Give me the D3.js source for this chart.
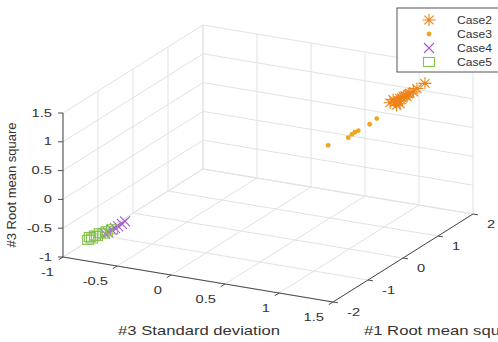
<!DOCTYPE html>
<html>
<head>
<meta charset="utf-8">
<script src="https://cdn.jsdelivr.net/npm/d3@7"></script>
<style>
  html, body { margin: 0; padding: 0; background: #fff; }
  svg { display: block; }
  text { font-family: "Liberation Sans", Arial, Helvetica, sans-serif; fill: #333; }
</style>
</head>
<body>
<svg id="chart" width="498" height="342"></svg>
<script>
// Axis limits and ticks
const xDomain = [-1, 1.5];   // #3 Standard deviation
const yDomain = [-2, 2];     // #1 Root mean square
const zDomain = [-1, 1.5];   // #3 Root mean square
const xTicks = [-1, -0.5, 0, 0.5, 1, 1.5];
const xTickLabels = ["-1", "-0.5", "0", "0.5", "1", "1.5"];
const yTicks = [-2, -1, 0, 1, 2];
const yTickLabels = ["-2", "-1", "0", "1", "2"];
const zTicks = [-1, -0.5, 0, 0.5, 1, 1.5];
const zTickLabels = ["-1", "-0.5", "0", "0.5", "1", "1.5"];

// Series: [#3 Standard deviation, #1 Root mean square, #3 Root mean square]
const case2 = [
  [1.034, 1.07, 1.14], [1.062, 1.12, 1.14], [1.080, 1.16, 1.16], [1.090, 1.18, 1.19],
  [1.099, 1.20, 1.20], [1.108, 1.22, 1.22], [1.118, 1.24, 1.23], [1.128, 1.26, 1.20],
  [1.137, 1.27, 1.25], [1.165, 1.33, 1.27], [1.230, 1.46, 1.39], [1.071, 1.14, 1.08],
  [1.052, 1.10, 1.19], [1.090, 1.18, 1.10], [1.146, 1.29, 1.26], [1.185, 1.37, 1.32]
];
const case3 = [
  [0.687, 0.37, 0.56], [0.799, 0.60, 0.64], [0.819, 0.64, 0.69], [0.837, 0.67, 0.72],
  [0.856, 0.71, 0.74], [0.919, 0.84, 0.82], [0.959, 0.92, 0.90]
];
const case4 = [
  [-0.731, -1.63, -0.65], [-0.708, -1.61, -0.63], [-0.684, -1.58, -0.59], [-0.661, -1.56, -0.56],
  [-0.638, -1.54, -0.53], [-0.614, -1.51, -0.49], [-0.591, -1.49, -0.45]
];
const case5 = [
  [-0.848, -1.75, -0.75], [-0.836, -1.74, -0.70], [-0.822, -1.72, -0.73], [-0.801, -1.70, -0.68],
  [-0.787, -1.69, -0.69], [-0.766, -1.67, -0.64], [-0.743, -1.64, -0.65], [-0.719, -1.62, -0.61],
  [-0.682, -1.58, -0.58]
];
const seriesNames = ["Case2", "Case3", "Case4", "Case5"];
const seriesColors = ["#ee8316", "#f2a51c", "#a35ac8", "#84c24c"];

// Oblique view of the box: origin corner and screen vectors for each axis
const origin = [63, 257];
const xVec = [270, 45];
const yVec = [140, -88];
const zVec = [0, -144];

const fx = d3.scaleLinear().domain(xDomain).range([0, 1]);
const fy = d3.scaleLinear().domain(yDomain).range([0, 1]);
const fz = d3.scaleLinear().domain(zDomain).range([0, 1]);

function project(x, y, z) {
  const a = fx(x), b = fy(y), c = fz(z);
  return [
    origin[0] + a * xVec[0] + b * yVec[0] + c * zVec[0],
    origin[1] + a * xVec[1] + b * yVec[1] + c * zVec[1]
  ];
}

const svg = d3.select("#chart");
const line = d3.line();

// Grid on the floor, left wall and back wall
const grid = svg.append("g").attr("stroke", "#e2e2e2").attr("stroke-width", 1).attr("fill", "none");
const [x0, x1] = xDomain, [y0, y1] = yDomain, [z0, z1] = zDomain;
const gridSegs = [];
xTicks.forEach(x => {
  gridSegs.push([project(x, y0, z0), project(x, y1, z0)]);   // floor
  gridSegs.push([project(x, y1, z0), project(x, y1, z1)]);   // back wall
});
yTicks.forEach(y => {
  gridSegs.push([project(x0, y, z0), project(x1, y, z0)]);   // floor
  gridSegs.push([project(x0, y, z0), project(x0, y, z1)]);   // left wall
});
zTicks.forEach(z => {
  gridSegs.push([project(x0, y0, z), project(x0, y1, z)]);   // left wall
  gridSegs.push([project(x0, y1, z), project(x1, y1, z)]);   // back wall
});
grid.selectAll("path").data(gridSegs).join("path").attr("d", d => line(d));

// Axis lines and tick marks
const axisColor = "#4a4a4a";
const axes = svg.append("g").attr("stroke", axisColor).attr("stroke-width", 1).attr("fill", "none");
axes.append("path").attr("d", line([project(x0, y0, z0), project(x1, y0, z0)]));
axes.append("path").attr("d", line([project(x1, y0, z0), project(x1, y1, z0)]));
axes.append("path").attr("d", line([project(x0, y0, z0), project(x0, y0, z1)]));

const tickLen = 5;
function unit(v) { const n = Math.hypot(v[0], v[1]); return [v[0] / n, v[1] / n]; }
const uy = unit(yVec), ux = unit(xVec);
xTicks.forEach(x => {
  const p = project(x, y0, z0);
  axes.append("path").attr("d", line([p, [p[0] - uy[0] * tickLen, p[1] - uy[1] * tickLen]]));
});
yTicks.forEach(y => {
  const p = project(x1, y, z0);
  axes.append("path").attr("d", line([p, [p[0] + ux[0] * tickLen, p[1] + ux[1] * tickLen]]));
});
zTicks.forEach(z => {
  const p = project(x0, y0, z);
  axes.append("path").attr("d", line([p, [p[0] - tickLen, p[1]]]));
});

// Text helper with a slight horizontal widening
function label(g, txt, px, py, opts) {
  return g.append("text")
    .attr("transform", `translate(${px},${py}) scale(${opts.sx || 1},1)`)
    .attr("text-anchor", opts.anchor || "start")
    .attr("dominant-baseline", opts.baseline || "auto")
    .attr("font-size", opts.size)
    .text(txt);
}

const labels = svg.append("g");
xTicks.forEach((x, i) => {
  const p = project(x, y0, z0);
  label(labels, xTickLabels[i], p[0] - 9, p[1] + 15, { anchor: "end", baseline: "central", size: 10.5, sx: 1.4 });
});
yTicks.forEach((y, i) => {
  const p = project(x1, y, z0);
  label(labels, yTickLabels[i], p[0] + 14, p[1] + 10, { anchor: "start", baseline: "central", size: 10.5, sx: 1.4 });
});
zTicks.forEach((z, i) => {
  const p = project(x0, y0, z);
  label(labels, zTickLabels[i], 52, p[1], { anchor: "end", baseline: "central", size: 10.5, sx: 1.4 });
});

label(labels, "#3 Standard deviation", 199, 335, { anchor: "middle", size: 13, sx: 1.28 });
label(labels, "#1 Root mean square", 364, 335, { anchor: "start", size: 13, sx: 1.28 });
labels.append("text")
  .attr("transform", "translate(16,185) rotate(-90)")
  .attr("text-anchor", "middle")
  .attr("font-size", 13)
  .text("#3 Root mean square");

// Marker shapes
function asterisk(rx, ry) {
  const dx = rx * 0.72, dy = ry * 0.72;
  return `M${-rx},0L${rx},0M0,${-ry}L0,${ry}M${-dx},${-dy}L${dx},${dy}M${-dx},${dy}L${dx},${-dy}`;
}
function cross(r) {
  return `M${-r},${-r}L${r},${r}M${-r},${r}L${r},${-r}`;
}

function drawMarker(g, kind, color, px, py) {
  if (kind === 0) {
    g.append("path").attr("d", asterisk(6.5, 6)).attr("transform", `translate(${px},${py})`)
      .attr("stroke", color).attr("stroke-width", 1.1).attr("fill", "none");
  } else if (kind === 1) {
    g.append("circle").attr("cx", px).attr("cy", py).attr("r", 2.4).attr("fill", color);
  } else if (kind === 2) {
    g.append("path").attr("d", cross(5)).attr("transform", `translate(${px},${py})`)
      .attr("stroke", color).attr("stroke-width", 1.1).attr("fill", "none");
  } else {
    g.append("rect").attr("x", px - 5.5).attr("y", py - 4.5).attr("width", 11).attr("height", 9)
      .attr("stroke", color).attr("stroke-width", 1.1).attr("fill", "none");
  }
}

const marks = svg.append("g");
[case2, case3, case4, case5].forEach((series, k) => {
  series.forEach(d => {
    const p = project(d[0], d[1], d[2]);
    drawMarker(marks, k, seriesColors[k], p[0], p[1]);
  });
});

// Legend
const legend = svg.append("g");
legend.append("rect").attr("x", 397).attr("y", 8).attr("width", 106).attr("height", 64)
  .attr("fill", "#fff").attr("stroke", "#555").attr("stroke-width", 1);
const legendRows = [20, 34, 48, 62];
seriesNames.forEach((name, k) => {
  drawMarker(legend, k, seriesColors[k], 429, legendRows[k]);
  label(legend, name, 457, legendRows[k], { anchor: "start", baseline: "central", size: 11, sx: 1.1 });
});
</script>
</body>
</html>
